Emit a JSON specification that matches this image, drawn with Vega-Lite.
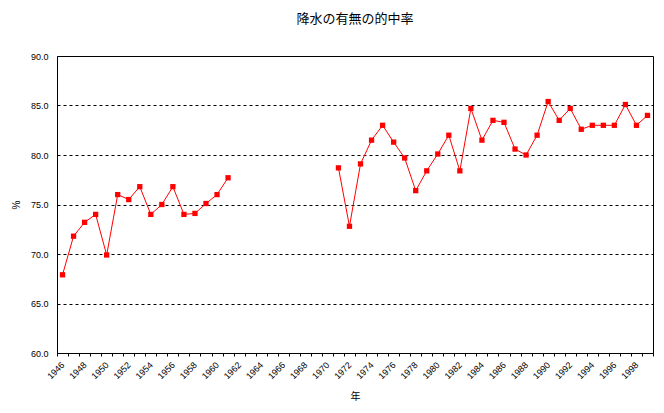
{
  "$schema": "https://vega.github.io/schema/vega-lite/v6.json",
  "autosize": {"type": "none"},
  "width": 596,
  "height": 297,
  "padding": {"left": 57, "top": 56, "right": 11, "bottom": 60},
  "background": "white",
  "title": {"text": "降水の有無の的中率", "font": "Noto Sans CJK JP", "fontSize": 13, "fontWeight": "normal", "color": "black", "offset": 26},
  "config": {"view": {"stroke": "black", "strokeWidth": 1}},
  "data": {"values": [
    {"year": 1946, "seg": 1, "rate": 67.9},
    {"year": 1947, "seg": 1, "rate": 71.8},
    {"year": 1948, "seg": 1, "rate": 73.2},
    {"year": 1949, "seg": 1, "rate": 74.0},
    {"year": 1950, "seg": 1, "rate": 69.9},
    {"year": 1951, "seg": 1, "rate": 76.0},
    {"year": 1952, "seg": 1, "rate": 75.5},
    {"year": 1953, "seg": 1, "rate": 76.8},
    {"year": 1954, "seg": 1, "rate": 74.0},
    {"year": 1955, "seg": 1, "rate": 75.0},
    {"year": 1956, "seg": 1, "rate": 76.8},
    {"year": 1957, "seg": 1, "rate": 74.0},
    {"year": 1958, "seg": 1, "rate": 74.1},
    {"year": 1959, "seg": 1, "rate": 75.1},
    {"year": 1960, "seg": 1, "rate": 76.0},
    {"year": 1961, "seg": 1, "rate": 77.7},
    {"year": 1971, "seg": 2, "rate": 78.7},
    {"year": 1972, "seg": 2, "rate": 72.8},
    {"year": 1973, "seg": 2, "rate": 79.1},
    {"year": 1974, "seg": 2, "rate": 81.5},
    {"year": 1975, "seg": 2, "rate": 83.0},
    {"year": 1976, "seg": 2, "rate": 81.3},
    {"year": 1977, "seg": 2, "rate": 79.7},
    {"year": 1978, "seg": 2, "rate": 76.4},
    {"year": 1979, "seg": 2, "rate": 78.4},
    {"year": 1980, "seg": 2, "rate": 80.1},
    {"year": 1981, "seg": 2, "rate": 82.0},
    {"year": 1982, "seg": 2, "rate": 78.4},
    {"year": 1983, "seg": 2, "rate": 84.7},
    {"year": 1984, "seg": 2, "rate": 81.5},
    {"year": 1985, "seg": 2, "rate": 83.5},
    {"year": 1986, "seg": 2, "rate": 83.3},
    {"year": 1987, "seg": 2, "rate": 80.6},
    {"year": 1988, "seg": 2, "rate": 80.0},
    {"year": 1989, "seg": 2, "rate": 82.0},
    {"year": 1990, "seg": 2, "rate": 85.4},
    {"year": 1991, "seg": 2, "rate": 83.5},
    {"year": 1992, "seg": 2, "rate": 84.7},
    {"year": 1993, "seg": 2, "rate": 82.6},
    {"year": 1994, "seg": 2, "rate": 83.0},
    {"year": 1995, "seg": 2, "rate": 83.0},
    {"year": 1996, "seg": 2, "rate": 83.0},
    {"year": 1997, "seg": 2, "rate": 85.1},
    {"year": 1998, "seg": 2, "rate": 83.0},
    {"year": 1999, "seg": 2, "rate": 84.0}
  ]},
  "encoding": {
    "x": {
      "field": "year", "type": "ordinal",
      "scale": {"domain": [1946,1947,1948,1949,1950,1951,1952,1953,1954,1955,1956,1957,1958,1959,1960,1961,1962,1963,1964,1965,1966,1967,1968,1969,1970,1971,1972,1973,1974,1975,1976,1977,1978,1979,1980,1981,1982,1983,1984,1985,1986,1987,1988,1989,1990,1991,1992,1993,1994,1995,1996,1997,1998,1999], "paddingInner": 0, "paddingOuter": 0},
      "axis": {
        "title": "年", "titleFont": "Noto Sans CJK JP", "titleFontSize": 10, "titleFontWeight": "normal", "titleColor": "black", "titlePadding": 11,
        "labelExpr": "datum.value % 2 == 0 ? datum.label : ''",
        "labelAngle": -45, "labelAlign": "right", "labelBaseline": "middle",
        "labelFont": "Liberation Sans", "labelFontSize": 9, "labelColor": "black", "labelPadding": 7,
        "tickBand": "extent", "tickSize": 3, "tickColor": "black", "domainColor": "black",
        "grid": false
      }
    },
    "y": {
      "field": "rate", "type": "quantitative",
      "scale": {"domain": [60, 90], "nice": false, "zero": false},
      "axis": {
        "title": "%", "titleFont": "Liberation Sans", "titleFontSize": 10, "titleFontWeight": "normal", "titleColor": "black", "titlePadding": 9,
        "values": [60, 65, 70, 75, 80, 85, 90], "format": ".1f",
        "labelFont": "Liberation Sans", "labelFontSize": 9, "labelColor": "black", "labelPadding": 9,
        "ticks": false, "domainColor": "black",
        "grid": true, "gridColor": "black", "gridDash": [3, 3], "gridWidth": 1,
        "gridOpacity": {"condition": {"test": "datum.value == 60 || datum.value == 90", "value": 0}, "value": 1}
      }
    },
    "detail": {"field": "seg"}
  },
  "layer": [
    {"mark": {"type": "line", "color": "#ff0000", "strokeWidth": 1}},
    {"mark": {"type": "square", "color": "#ff0000", "filled": true, "opacity": 1, "size": 28}}
  ]
}
